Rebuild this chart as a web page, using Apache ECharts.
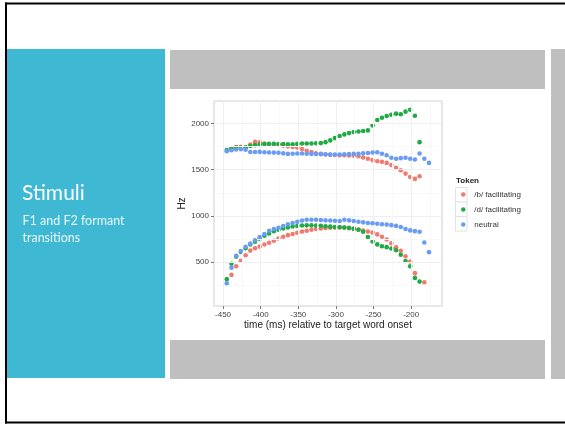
<!DOCTYPE html>
<html lang="en">
<head>
<meta charset="UTF-8">
<title>Stimuli</title>
<script src="https://cdn.jsdelivr.net/npm/echarts@6/dist/echarts.min.js"></script>
<style>
  html, body { margin: 0; padding: 0; background: #fff; }
  #main { width: 565px; height: 424px; }
</style>
</head>
<body>
<div id="main"></div>
<script>
// time of each sample (ms relative to target word onset)
var times = [-445, -438.8, -432.5, -426.3, -420, -413.8, -407.5, -401.3, -395, -388.8,
             -382.5, -376.3, -370, -363.8, -357.5, -351.3, -345, -338.8, -332.5, -326.3,
             -320, -313.8, -307.5, -301.3, -295, -288.8, -282.5, -276.3, -270, -263.8,
             -257.5, -251.3, -245, -238.8, -232.5, -226.3, -220, -213.8, -207.5, -201.3,
             -195, -188.8, -182.5, -176.3];

// /b/ facilitating
var bF1 = [null, 362, 455, 515, 575, 625, 650, 668, 690, 710, 732, 755, 775, 792, 805, 818, 830, 840, 850, 858,
           864, 870, 873, 875, 876, 875, 870, 862, 852, 842, 832, 820, 800, 775, 745, 705, 660, 623, 563, 507,
           381, null, 283, null];
var bF2 = [null, 1730, 1745, 1748, 1738, 1772, 1800, 1795, 1778, 1772, 1770, 1768, 1760, 1752, 1745, 1738, 1722, 1705, 1690, 1678,
           1670, 1664, 1660, 1658, 1656, 1655, 1654, 1652, 1645, 1632, 1617, 1603, 1591, 1584, 1573, 1550, 1519, 1493, 1457, 1421,
           1400, 1428, null, null];
// /d/ facilitating
var dF1 = [316, 482, 560, 610, 650, 690, 720, 752, 785, 810, 835, 850, 865, 875, 885, 892, 896, 898, 898, 896,
           893, 888, 884, 880, 877, 874, 868, 860, 850, 828, 772, 724, 692, 672, 662, 648, 628, 580, 512, 455,
           330, 290, null, null];
var dF2 = [1712, 1725, 1738, 1735, 1742, 1755, 1765, 1772, 1778, 1780, 1779, 1777, 1776, 1775, 1773, 1778, 1783, 1782, 1783, 1786,
           1787, 1797, 1816, 1841, 1863, 1881, 1895, 1906, 1913, 1917, 1924, 1978, 2036, 2061, 2080, 2094, 2105, 2098, 2127, 2148,
           2083, 1797, null, null];
// neutral
var nF1 = [272, 440, 570, 620, 666, 700, 737, 772, 805, 840, 858, 872, 890, 910, 923, 937, 951, 959, 959, 959,
           955, 952, 950, 948, 945, 959, 952, 945, 937, 930, 923, 920, 915, 910, 906, 900, 892, 880, 858, 843,
           835, 829, 713, 608];
var nF2 = [1700, 1710, 1718, 1720, 1715, 1690, 1690, 1692, 1688, 1686, 1684, 1682, 1676, 1670, 1672, 1675, 1674, 1672, 1670, 1670,
           1668, 1666, 1664, 1662, 1664, 1665, 1668, 1670, 1672, 1676, 1680, 1685, 1688, 1672, 1655, 1628, 1618, 1624, 1628, 1618,
           1610, 1675, 1618, 1573];

var tokens = ['/b/ facilitating', '/d/ facilitating', 'neutral'];
var colors = ['#f07a6f', '#1fab43', '#6a9cf4'];

var xTicks = [-450, -400, -350, -300, -250, -200];
var xMinor = [-425, -375, -325, -275, -225, -175];
var yTicks = [500, 1000, 1500, 2000];
var yMinor = [250, 750, 1250, 1750];

function points(f1, f2) {
    var out = [];
    [f1, f2].forEach(function (arr) {
        for (var i = 0; i < times.length; i++) {
            if (arr[i] != null) out.push([times[i], arr[i]]);
        }
    });
    return out;
}

var gridLines = [];
xMinor.forEach(function (v) { gridLines.push({ xAxis: v, lineStyle: { color: '#f8f8f8' } }); });
yMinor.forEach(function (v) { gridLines.push({ yAxis: v, lineStyle: { color: '#f8f8f8' } }); });
xTicks.forEach(function (v) { gridLines.push({ xAxis: v, lineStyle: { color: '#efefef' } }); });
yTicks.forEach(function (v) { gridLines.push({ yAxis: v, lineStyle: { color: '#efefef' } }); });

var tokenData = [points(bF1, bF2), points(dF1, dF2), points(nF1, nF2)];

var series = [{
    name: 'grid',
    type: 'scatter',
    data: [],
    z: 1,
    silent: true,
    markLine: {
        silent: true,
        symbol: 'none',
        label: { show: false },
        lineStyle: { type: 'solid', width: 1 },
        animation: false,
        data: gridLines
    }
}];
tokens.forEach(function (name, k) {
    series.push({
        name: name,
        type: 'scatter',
        z: 3 + k,
        symbolSize: 4.6,
        itemStyle: { color: colors[k], opacity: 1 },
        emphasis: { disabled: true },
        data: tokenData[k]
    });
});

var myChart = echarts.init(document.getElementById('main'));

option = {
    animation: false,
    backgroundColor: '#fff',
    graphic: [
        // slide frame
        { type: 'rect', shape: { x: 5, y: 2.5, width: 560, height: 2 }, style: { fill: '#000' } },
        { type: 'rect', shape: { x: 5, y: 2.5, width: 2, height: 421 }, style: { fill: '#000' } },
        { type: 'rect', shape: { x: 5, y: 421.5, width: 560, height: 2 }, style: { fill: '#000' } },
        // left teal panel
        { type: 'rect', shape: { x: 7, y: 49, width: 158, height: 329 }, style: { fill: '#3fb8d3' } },
        // grey bars
        { type: 'rect', shape: { x: 170, y: 50, width: 375, height: 39 }, style: { fill: '#bfbfbf' } },
        { type: 'rect', shape: { x: 170, y: 340, width: 375, height: 39 }, style: { fill: '#bfbfbf' } },
        { type: 'rect', shape: { x: 551, y: 49, width: 14, height: 330 }, style: { fill: '#bfbfbf' } },
        // slide text
        { type: 'text', x: 22, y: 193, style: { text: 'Stimuli', fill: '#fff', font: '21px Lato', verticalAlign: 'middle' } },
        { type: 'text', x: 22.5, y: 221, style: { text: 'F1 and F2 formant', fill: '#e9f7fb', font: '12.5px Lato', verticalAlign: 'middle' } },
        { type: 'text', x: 22.5, y: 238, style: { text: 'transitions', fill: '#e9f7fb', font: '12.5px Lato', verticalAlign: 'middle' } },
        // legend title and key boxes
        { type: 'text', x: 456, y: 180.5, style: { text: 'Token', fill: '#222', font: 'bold 8px "Liberation Sans"', verticalAlign: 'middle' } },
        { type: 'rect', z: 1, shape: { x: 455.5, y: 187.5, width: 11.5, height: 14.5 }, style: { fill: '#fff', stroke: '#e2e2e2', lineWidth: 1 } },
        { type: 'rect', z: 1, shape: { x: 455.5, y: 202, width: 11.5, height: 14.5 }, style: { fill: '#fff', stroke: '#e2e2e2', lineWidth: 1 } },
        { type: 'rect', z: 1, shape: { x: 455.5, y: 216.5, width: 11.5, height: 14.5 }, style: { fill: '#fff', stroke: '#e2e2e2', lineWidth: 1 } }
    ],
    legend: {
        data: tokens,
        orient: 'vertical',
        left: 456,
        top: 185,
        itemWidth: 12,
        itemHeight: 4.5,
        itemGap: 6,
        icon: 'circle',
        selectedMode: false,
        textStyle: { fontSize: 8, color: '#333', fontFamily: 'Liberation Sans', lineHeight: 9 }
    },
    grid: {
        left: 214, top: 101, width: 228, height: 205,
        show: true, backgroundColor: '#fff', borderColor: '#cfcfcf', borderWidth: 1
    },
    xAxis: {
        type: 'value',
        min: -462, max: -159,
        name: 'time (ms) relative to target word onset',
        nameLocation: 'middle',
        nameGap: 14,
        nameTextStyle: { fontSize: 10, color: '#222', fontFamily: 'Liberation Sans' },
        axisLine: { show: false },
        axisTick: { show: true, customValues: xTicks, length: 3, lineStyle: { color: '#777' } },
        axisLabel: { customValues: xTicks, fontSize: 8, color: '#444', margin: 5, fontFamily: 'Liberation Sans' },
        splitLine: { show: false }
    },
    yAxis: {
        type: 'value',
        min: 26, max: 2242,
        name: 'Hz',
        nameLocation: 'middle',
        nameGap: 26,
        nameTextStyle: { fontSize: 10, color: '#222', fontFamily: 'Liberation Sans' },
        axisLine: { show: false },
        axisTick: { show: true, customValues: yTicks, length: 3, lineStyle: { color: '#777' } },
        axisLabel: {
            customValues: yTicks, fontSize: 8, color: '#444', margin: 5, fontFamily: 'Liberation Sans',
            formatter: function (v) { return String(v); }
        },
        splitLine: { show: false }
    },
    series: series
};

myChart.setOption(option);
</script>
</body>
</html>
